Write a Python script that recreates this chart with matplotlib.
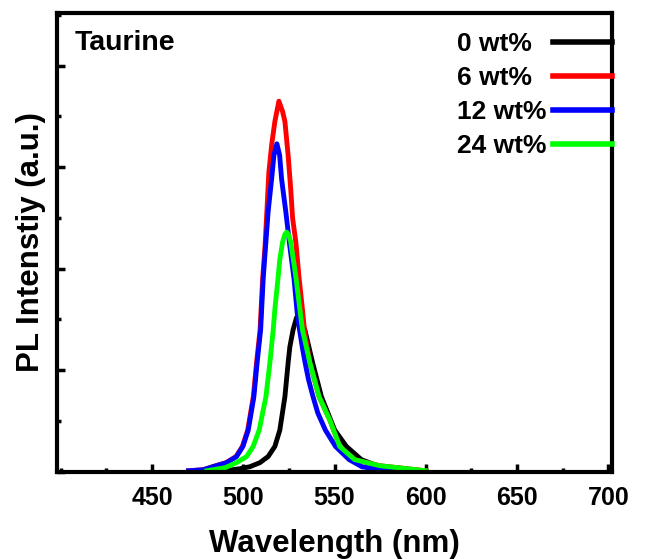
import numpy as np
import matplotlib
matplotlib.use('Agg')
import matplotlib.pyplot as plt
from matplotlib.ticker import MultipleLocator

plt.rcParams['font.family'] = ['Liberation Sans', 'DejaVu Sans']
plt.rcParams['font.weight'] = 'bold'

# PL spectra for taurine loading (wavelength in nm, intensity in a.u.)
wl_0 = [470, 490, 498, 503.6, 509.1, 513.6, 517.3, 520.0, 522.8, 524.6, 525.5, 527.3,
        529.2, 531.2, 533.7, 537.9, 542.8, 550.1, 556.5, 564.7, 574.7, 585.7, 600]
pl_0 = [0.0, 0.01, 0.03, 0.05, 0.09, 0.15, 0.25, 0.41, 0.74, 1.08, 1.23, 1.40,
        1.52, 1.49, 1.40, 1.08, 0.74, 0.41, 0.25, 0.12, 0.05, 0.02, 0.0]

wl_6 = [470, 478, 483.1, 490.6, 496.0, 499.5, 502.4, 505.5, 507.3, 509.2, 510.6, 511.9,
        512.9, 514.0, 515.6, 517.3, 519.5, 521.5, 522.8, 524.6, 526.0, 527.0, 528.8,
        530.5, 532.4, 533.5, 536.4, 541.5, 547.4, 552.8, 561.0, 574.7, 590, 600]
pl_6 = [0.01, 0.02, 0.05, 0.09, 0.15, 0.25, 0.41, 0.74, 1.08, 1.40, 1.90, 2.22,
        2.56, 2.95, 3.23, 3.45, 3.65, 3.55, 3.45, 3.11, 2.78, 2.50, 2.26,
        1.92, 1.60, 1.40, 1.08, 0.74, 0.51, 0.25, 0.12, 0.06, 0.03, 0.01]

wl_12 = [470, 478, 483.4, 490.9, 496.3, 499.8, 502.7, 505.8, 507.6, 509.5, 510.9, 512.2,
         513.6, 515.5, 516.8, 518.4, 519.9, 521.0, 523.3, 525.5, 527.8, 529.5, 530.8,
         532.3, 533.8, 535.7, 538.2, 540.8, 545.0, 550.5, 558.0, 565.0, 575, 590, 600]
pl_12 = [0.01, 0.02, 0.05, 0.09, 0.15, 0.25, 0.41, 0.74, 1.08, 1.40, 1.90, 2.22,
         2.56, 2.88, 3.12, 3.23, 3.12, 2.88, 2.56, 2.22, 1.90, 1.57, 1.40,
         1.23, 1.08, 0.91, 0.74, 0.58, 0.41, 0.25, 0.12, 0.05, 0.02, 0.01, 0.0]

wl_24 = [480, 490, 496.3, 501.8, 505.4, 508.7, 512.4, 514.6, 516.4, 517.3, 519.1, 520.0,
         521.5, 522.8, 523.8, 524.9, 526.0, 528.8, 531.0, 532.4, 536.4, 541.5, 547.4,
         552.8, 561.0, 574.7, 590, 600]
pl_24 = [0.01, 0.04, 0.09, 0.15, 0.25, 0.41, 0.74, 1.08, 1.40, 1.60, 1.92, 2.09,
         2.26, 2.34, 2.36, 2.33, 2.26, 1.92, 1.60, 1.40, 1.08, 0.74, 0.51,
         0.25, 0.12, 0.06, 0.03, 0.01]

labels = ['0 wt%', '6 wt%', '12 wt%', '24 wt%']
colors = ['#000000', '#ff0000', '#0000ff', '#00ff00']
series = [(wl_0, pl_0), (wl_6, pl_6), (wl_12, pl_12), (wl_24, pl_24)]
xticks = [450, 500, 550, 600, 650, 700]

fig = plt.figure(figsize=(6.49, 5.59), dpi=100)
ax = fig.add_axes([0.088, 0.156, 0.855, 0.821])

for (x, y), c, lab in zip(series, colors, labels):
    ax.plot(x, y, color=c, lw=3.5, label=lab, solid_joinstyle='round')

ax.set_xlim(398, 702)
ax.set_ylim(0, 4.52)
ax.xaxis.set_minor_locator(MultipleLocator(25))
ax.yaxis.set_major_locator(MultipleLocator(1))
ax.yaxis.set_minor_locator(MultipleLocator(0.5))
ax.set_xticks(xticks)
ax.set_yticklabels([])
ax.tick_params(which='both', direction='in', top=False, right=False, width=2.5)
ax.tick_params(which='major', length=6, labelsize=18, pad=10)
ax.tick_params(which='minor', length=3)
for sp in ax.spines.values():
    sp.set_linewidth(3)

ax.set_xlabel('Wavelength (nm)', fontsize=22.5, fontweight='bold', labelpad=14)
ax.set_ylabel('PL Intenstiy (a.u.)', fontsize=22.5, fontweight='bold', labelpad=-2)

ax.text(0.032, 0.962, 'Taurine', transform=ax.transAxes, fontsize=20.5,
        fontweight='bold', va='top', ha='left')

leg = ax.legend(loc='upper right', bbox_to_anchor=(1.0, 0.958), frameon=False,
                markerfirst=False, fontsize=19, handlelength=2.23, handletextpad=0.1,
                labelspacing=0.38, borderpad=0.0, borderaxespad=0.0)
for line in leg.get_lines():
    line.set_linewidth(4)

# labels flush left, handles flush right inside one fixed-width column
col = leg._legend_handle_box.get_children()[0]
col.width = 155
for row in col.get_children():
    row.mode = 'expand'

fig.savefig('out.png', dpi=100)
